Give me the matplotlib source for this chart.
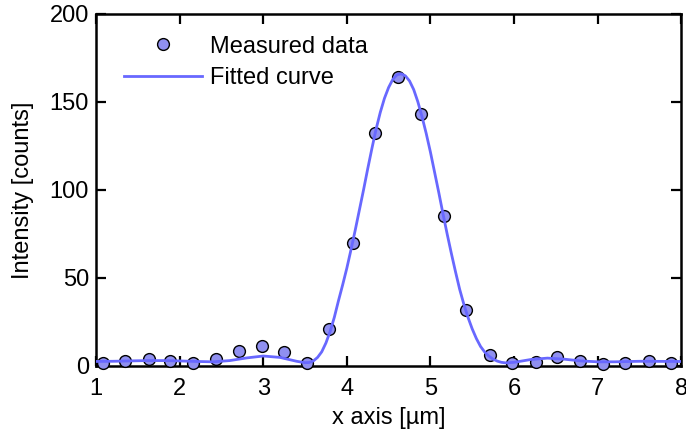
import matplotlib
matplotlib.use("Agg")
import matplotlib.pyplot as plt

plt.rcParams.update({
    'font.family': ['Liberation Sans', 'DejaVu Sans'],
    'font.size': 17,
    'axes.linewidth': 1.8,
    'xtick.direction': 'in',
    'ytick.direction': 'in',
    'xtick.top': True,
    'ytick.right': True,
    'xtick.major.size': 7,
    'ytick.major.size': 7,
    'xtick.major.width': 1.6,
    'ytick.major.width': 1.6,
})

# measured points
meas_x = [1.08, 1.35, 1.63, 1.89, 2.16, 2.44, 2.71, 2.99, 3.25, 3.52,
          3.79, 4.07, 4.34, 4.61, 4.89, 5.16, 5.43, 5.71, 5.97, 6.26,
          6.51, 6.79, 7.06, 7.33, 7.61, 7.88]
meas_y = [1.9, 2.8, 3.8, 2.8, 1.9, 3.8, 8.7, 11.5, 7.8, 1.9,
          20.9, 70.0, 132.2, 164.4, 143.2, 85.2, 31.8, 5.9, 1.9, 2.4,
          4.9, 3.0, 1.0, 1.9, 3.0, 1.9]

# fitted curve
fit_x = [1.0, 1.2, 1.4, 1.6, 1.8, 2.0, 2.2, 2.4, 2.6, 2.8, 3.0, 3.2, 3.4,
         3.5, 3.55, 3.6, 3.65, 3.7, 3.75, 3.8, 3.85, 3.9, 3.95, 4.0, 4.05,
         4.1, 4.15, 4.2, 4.25, 4.3, 4.35, 4.4, 4.45, 4.5, 4.55, 4.6, 4.65,
         4.7, 4.75, 4.8, 4.85, 4.9, 4.95, 5.0, 5.05, 5.1, 5.15, 5.2, 5.25,
         5.3, 5.35, 5.4, 5.45, 5.5, 5.55, 5.6, 5.65, 5.7, 5.75, 5.8, 5.85,
         5.9, 6.0, 6.2, 6.4, 6.6, 6.8, 7.0, 7.2, 7.5, 8.0]
fit_y = [2.5, 2.6, 2.8, 3.0, 3.0, 2.8, 2.5, 2.3, 3.0, 4.5, 5.6, 4.8, 2.6,
         1.8, 1.9, 2.8, 4.8, 8.0, 13.0, 19.5, 27.5, 37.0, 46.0, 55.5, 66.0,
         77.0, 88.5, 100.0, 112.0, 123.5, 134.5, 144.0, 152.0, 158.2, 162.8,
         165.4, 166.0, 164.8, 161.9, 157.0, 150.0, 141.5, 132.0, 121.5, 110.0,
         98.5, 86.5, 75.0, 64.0, 53.5, 43.5, 35.0, 27.5, 21.0, 15.5, 11.0,
         7.8, 5.5, 3.8, 2.7, 2.0, 1.7, 2.0, 3.6, 4.4, 3.8, 2.8, 2.3, 2.3,
         2.6, 2.5]

fig = plt.figure(figsize=(6.86, 4.34), dpi=100)
ax = fig.add_axes([0.140, 0.157, 0.853, 0.811])

ax.plot(meas_x, meas_y, 'o', color='#9090f0', markeredgecolor='black',
        markeredgewidth=1.0, markersize=8.5, clip_on=False, zorder=3,
        label='Measured data')
ax.plot(fit_x, fit_y, '-', color='#6868ff', linewidth=2.0, zorder=4,
        label='Fitted curve')

ax.set_xlim(1, 8)
ax.set_ylim(0, 200)
ax.set_xticks(range(1, 9))
ax.set_yticks([0, 50, 100, 150, 200])
ax.tick_params(axis='x', pad=9)
ax.tick_params(axis='y', pad=5)

ax.set_xlabel('x axis [\u00b5m]', labelpad=5)
ax.set_ylabel('Intensity [counts]', labelpad=11.5)

ax.legend(loc='upper left', bbox_to_anchor=(0.048, 0.938), frameon=False,
          borderaxespad=0, borderpad=0, handlelength=3.3,
          handletextpad=0.34, labelspacing=0.385)

fig.savefig('out.png', dpi=100)
